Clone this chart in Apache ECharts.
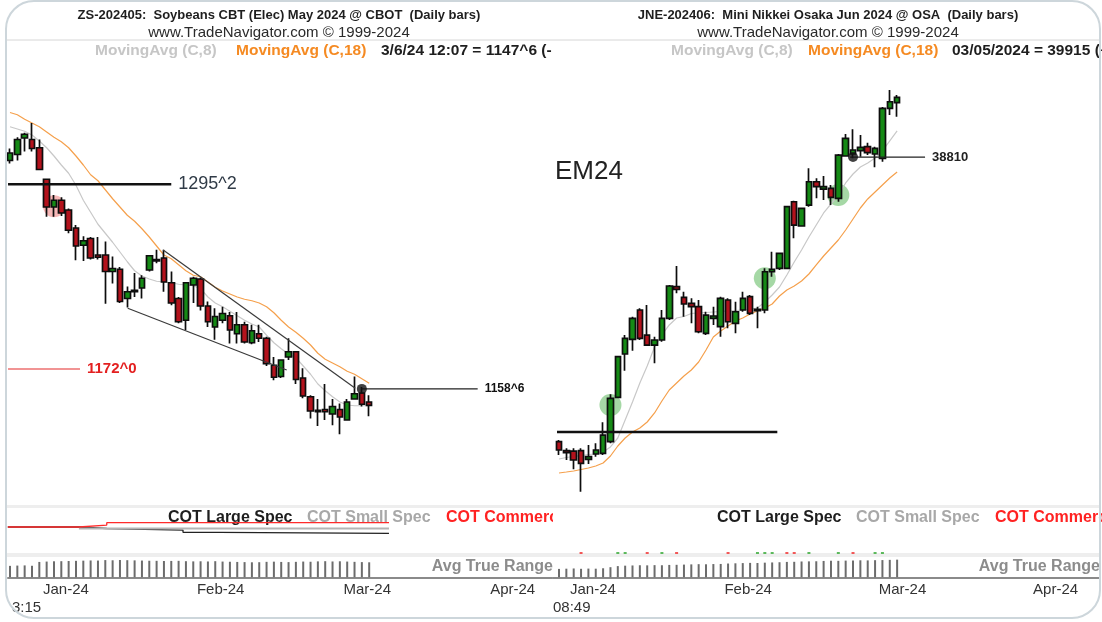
<!DOCTYPE html>
<html>
<head>
<meta charset="utf-8">
<title>ZS-202405 / JNE-202406 daily bars</title>
<script src="https://cdn.jsdelivr.net/npm/echarts@6.0.0/dist/echarts.min.js"></script>
<style>
  html, body { margin: 0; padding: 0; background: #fff; }
  #chart { width: 1102px; height: 622px; }
</style>
</head>
<body>
<div id="chart"></div>
<script>
// ---------- Soybeans CBT May 2024 (ZS-202405), daily bars [open, close, low, high]
const zsBars = [
  [1311, 1316, 1309, 1319], [1315, 1325, 1311, 1326.5], [1326, 1328.5, 1317, 1329.5], [1325, 1319, 1317, 1336],
  [1319.5, 1305, 1304.5, 1325], [1298.5, 1280, 1273.5, 1299], [1280, 1284.5, 1273.5, 1288], [1284.5, 1276, 1274, 1286.5],
  [1278, 1264.5, 1262.5, 1279], [1266, 1254, 1244.5, 1268], [1254.5, 1257.5, 1244, 1260.5], [1259, 1246, 1245, 1260],
  [1248, 1246.5, 1245, 1260], [1248, 1237, 1215.5, 1257], [1237, 1239, 1229, 1247], [1238.5, 1217, 1216, 1240],
  [1219, 1223.5, 1213, 1227], [1223.5, 1224.5, 1220, 1236], [1226, 1232.5, 1219, 1234.5], [1238, 1247.5, 1237, 1248],
  [1245, 1244, 1242.5, 1251.5], [1246, 1230, 1223.5, 1251.5], [1229.5, 1216, 1214.5, 1237], [1219, 1203.5, 1202.5, 1220],
  [1204.5, 1229.5, 1198, 1230], [1228, 1232.5, 1216, 1233.5], [1232, 1214, 1211, 1233], [1214, 1203.5, 1200, 1217],
  [1200, 1207, 1191.5, 1212.5], [1204.5, 1209, 1202.5, 1213.5], [1207.5, 1198, 1189, 1210], [1195.5, 1201.5, 1189, 1210],
  [1201.5, 1190, 1189, 1203.5], [1189.5, 1197.5, 1188.5, 1201.5], [1195.5, 1192.5, 1190, 1201.5], [1192.5, 1175.5, 1174, 1193.5],
  [1174.5, 1166.5, 1164.5, 1180], [1167, 1178, 1166, 1178.5], [1180, 1183.5, 1178, 1192.5], [1183.5, 1165, 1162, 1184],
  [1166, 1154, 1152.5, 1172.5], [1153.5, 1144, 1139, 1154.5], [1144.5, 1143.5, 1134, 1152], [1145, 1143.5, 1138, 1162],
  [1142, 1147, 1134.5, 1152], [1145, 1140, 1128.5, 1149], [1138, 1150, 1137.5, 1152], [1152, 1155.5, 1151.5, 1167],
  [1156, 1148.5, 1147, 1160], [1150, 1147.75, 1140.5, 1154.5]
];
const zsMa8 = [1333.5, 1332, 1330.5, 1328, 1324, 1319.5, 1314, 1308, 1302.5, 1294.5, 1284.5, 1276.5, 1268.5, 1262.5, 1256.5, 1250,
  1243.5, 1237.5, 1234, 1232, 1230.5, 1230, 1229.5, 1228.5, 1228, 1227.5, 1225.5, 1220, 1216, 1213.5, 1210.5, 1207.5, 1204.5,
  1202, 1200, 1194.5, 1189.5, 1185.5, 1182, 1179.5, 1174, 1168.5, 1162, 1157.5, 1153.5, 1150, 1148, 1147.5, 1147.5, 1147.5];
const zsMa18 = [1343, 1341.5, 1338.5, 1336, 1333.5, 1330, 1326.5, 1323.5, 1319.5, 1314, 1308, 1301.5, 1297.5, 1291.5, 1285.5, 1280,
  1274.5, 1270.5, 1265.5, 1260, 1254, 1248, 1245.5, 1241.5, 1237.5, 1234.5, 1233.5, 1230, 1226.5, 1224, 1222, 1220, 1218.5,
  1217.5, 1216, 1213.5, 1209.5, 1204.5, 1200, 1196.5, 1192.5, 1188, 1182.5, 1178.5, 1176, 1173.5, 1170.5, 1168.5, 1165.5, 1162.5];
const zsAtr = [12.5, 12.8, 13, 12.6, 16.8, 17.2, 17.5, 17.6, 17.8, 18, 18.2, 18.4, 18.3, 18.8, 18.6, 18.9, 18.7, 18.5, 18.3, 18.1,
  18, 17.8, 17.9, 18, 17.6, 17.4, 17.5, 17.3, 17.6, 17.2, 17, 16.8, 16.6, 16.4, 16.5, 16.9, 17.1, 16.8, 16.6, 16.9, 17.2, 17,
  17.4, 17.6, 17.3, 17.5, 17.2, 16.9, 16.6, 16.4];
// drawn levels and trend lines, [bar index, price]
const zsLevel1295 = [[-0.27, 1295.25], [22, 1295.25]];
const zsLevel1172 = [[-0.27, 1172], [9.55, 1172]];
const zsLevel1158 = [[48, 1158.75], [63.8, 1158.75]];
const zsChannelTop = [[20.9, 1251.3], [47.1, 1159.1]];
const zsChannelBottom = [[16.06, 1212.5], [37.75, 1171.3]];
const zsDot = [[48, 1158.75]];
const zsCircle = [[6, 1280.5]];
// COT net positions (contracts), stepped weekly
const zsCotLarge = [[-0.3, 0], [9.4, 0], [9.4, -8000], [13.2, -8000], [13.2, -16000], [23.6, -16000], [23.6, -28000],
  [28.5, -28000], [28.5, -34000], [51.7, -34000]];
const zsCotSmall = [[9.4, -8000], [51.7, -8000]];
const zsCotComm = [[-0.3, 0], [9.4, 0], [9.4, 10000], [13.2, 10000], [13.2, 23000], [51.7, 23000]];

// ---------- Mini Nikkei Osaka Jun 2024 (JNE-202406), daily bars [open, close, low, high]
const jneBars = [
  [33544, 33390, 33297, 33575], [33377, 33340, 33205, 33421], [33371, 33205, 33033, 33421], [33377, 33144, 32619, 33421],
  [33218, 33266, 33131, 33482], [33316, 33390, 33266, 33514], [33329, 33667, 33297, 33902], [33544, 34346, 33514, 34420],
  [34365, 35116, 34346, 35130], [35166, 35456, 34857, 35517], [35438, 35826, 35227, 35856], [35980, 35456, 35425, 36011],
  [35517, 35332, 35314, 36072], [35332, 35425, 34994, 35486], [35425, 35826, 35393, 35980], [35826, 36424, 35795, 36442],
  [36411, 36363, 36289, 36794], [36215, 36091, 35856, 36318], [36104, 36041, 35734, 36196], [36041, 35578, 35549, 36165],
  [35549, 35887, 35517, 35948], [35826, 35869, 35702, 36041], [35671, 36196, 35486, 36226], [36165, 35763, 35641, 36196],
  [35734, 35948, 35549, 36133], [35980, 36196, 35948, 36318], [36226, 35919, 35887, 36257], [35993, 35967, 35641, 36041],
  [35980, 36688, 35919, 36751], [36688, 36733, 36596, 37058], [36751, 37029, 36720, 37040], [36751, 37891, 36733, 37904],
  [37983, 37552, 37306, 38002], [37534, 37861, 37521, 37873], [37922, 38353, 37891, 38601], [38353, 38261, 38046, 38416],
  [38218, 38261, 38015, 38459], [38231, 38065, 37922, 38292], [38046, 38847, 37983, 38866], [38829, 39156, 38816, 39236],
  [38866, 38940, 38786, 39323], [38927, 38990, 38816, 39217], [39001, 38890, 38847, 39075], [38866, 38971, 38620, 39001],
  [38786, 39711, 38723, 39735], [39711, 39833, 39587, 40050], [39815, 39915, 39556, 39957]
];
const jneMa8 = [33224, 33251, 33270, 33288, 33307, 33316, 33353, 33446, 33612, 33945, 34278, 34630, 34944, 35296, 35518, 35703,
  35832, 35860, 35915, 35925, 35934, 35943, 35952, 35962, 35971, 35980, 35999, 36017, 36128, 36258, 36406, 36628, 36868, 37090,
  37331, 37553, 37775, 37941, 38108, 38330, 38496, 38626, 38700, 38792, 38922, 39107, 39292];
const jneMa18 = [32965, 32983, 33002, 33029, 33057, 33094, 33150, 33279, 33464, 33612, 33723, 33797, 33908, 34075, 34297, 34500,
  34630, 34759, 34870, 35018, 35240, 35481, 35592, 35684, 35777, 35832, 35906, 35962, 36017, 36091, 36239, 36350, 36424, 36517,
  36646, 36813, 36979, 37127, 37275, 37460, 37664, 37867, 38034, 38163, 38293, 38422, 38533];
const jneAtr = [390, 400, 410, 395, 405, 400, 420, 470, 520, 540, 550, 560, 555, 565, 560, 575, 580, 590, 600, 610, 605, 615, 620,
  640, 650, 660, 670, 665, 680, 690, 700, 715, 720, 735, 740, 745, 760, 770, 765, 775, 780, 790, 785, 795, 800, 810, 820];
const jneLevelLow = [[-0.27, 33723], [29.7, 33723]];
const jneLevel38810 = [[39.6, 38810], [49.8, 38810]];
const jneDot = [[40, 38810]];
const jneCircles = [[7, 34222], [28, 36566], [38, 38108]];
const jneSigUp = [8, 9, 14, 27, 28, 29, 34, 38, 43, 44];
const jneSigDown = [3, 12, 16, 23, 31, 32, 40];

// ---------- date axis
const months = ['Jan-24', 'Feb-24', 'Mar-24', 'Apr-24'];
const zsMonthStart = [5, 26, 46, 66];
const jneMonthStart = [2, 23, 44, 65];

const FONT = '"Liberation Sans", Arial, sans-serif';

let chartDom = document.getElementById('chart');
let myChart = echarts.init(chartDom, null, { renderer: 'canvas' });

// panel geometry: bar i sits at x = first + i * step
const panels = [
  { left: 8, width: 544, xmin: -0.273, xmax: 73.94 },
  { left: 553, width: 547, xmin: -0.816, xmax: 73.6 }
];

function grids(p) {
  return [
    { left: p.left, width: p.width, top: 63, height: 435 },
    { left: p.left, width: p.width, top: 508, height: 38 },
    { left: p.left, width: p.width, top: 551, height: 4 },
    { left: p.left, width: p.width, top: 559, height: 18.3 }
  ];
}

function hiddenX(gi, p) {
  return { type: 'value', gridIndex: gi, min: p.xmin, max: p.xmax, show: false };
}

function dateX(gi, p, starts) {
  return {
    type: 'value', gridIndex: gi, min: p.xmin, max: p.xmax,
    axisLine: { show: true, onZero: false, lineStyle: { color: '#8a8a8a', width: 2 } },
    axisTick: { show: false },
    splitLine: { show: false },
    axisLabel: {
      customValues: starts.map(s => s - 0.5),
      formatter: function (v) {
        let k = starts.findIndex(s => Math.abs(s - 0.5 - v) < 0.01);
        return k >= 0 ? months[k] : '';
      },
      align: 'left', margin: 5, fontSize: 15, color: '#333', fontFamily: FONT
    }
  };
}

function yAx(gi, min, max) {
  return { type: 'value', gridIndex: gi, min: min, max: max, show: false, scale: true };
}

function candles(ax, data) {
  return {
    type: 'candlestick', xAxisIndex: ax, yAxisIndex: ax, silent: true, z: 4, barWidth: 6,
    data: data.map((b, i) => [i, b[0], b[1], b[2], b[3]]),
    itemStyle: {
      color: '#158a15', color0: '#b3121c',
      borderColor: '#0d0d0d', borderColor0: '#0d0d0d', borderColorDoji: '#0d0d0d', borderWidth: 1.7
    }
  };
}

function maLine(ax, data, color) {
  return {
    type: 'line', xAxisIndex: ax, yAxisIndex: ax, silent: true, z: 3, symbol: 'none',
    data: data.map((v, i) => [i, v]), lineStyle: { color: color, width: 1.2 }
  };
}

function drawnLine(ax, data, color, width, label) {
  let s = {
    type: 'line', xAxisIndex: ax, yAxisIndex: ax, silent: true, z: 5, symbol: 'none',
    data: data, lineStyle: { color: color, width: width }
  };
  if (label) {
    s.endLabel = Object.assign({ show: true, distance: 7, fontFamily: FONT, formatter: label.text }, label.style);
  }
  return s;
}

function dots(ax, data, size, color, z) {
  return {
    type: 'scatter', xAxisIndex: ax, yAxisIndex: ax, silent: true, z: z,
    data: data, symbolSize: size, itemStyle: { color: color }
  };
}

function text(x, y, str, font, fill, align) {
  return {
    type: 'text', x: x, y: y, z: 1,
    style: {
      text: str, font: font, fill: fill,
      align: align || 'left', textAlign: align || 'left',
      verticalAlign: 'middle', textVerticalAlign: 'middle'
    }
  };
}

function rect(x, y, w, h, fill, z) {
  return { type: 'rect', z: z, shape: { x: x, y: y, width: w, height: h }, style: { fill: fill } };
}

let option = {
  backgroundColor: '#ffffff',
  animation: false,
  grid: grids(panels[0]).concat(grids(panels[1])),
  xAxis: [
    hiddenX(0, panels[0]), hiddenX(1, panels[0]), hiddenX(2, panels[0]), dateX(3, panels[0], zsMonthStart),
    hiddenX(4, panels[1]), hiddenX(5, panels[1]), hiddenX(6, panels[1]), dateX(7, panels[1], jneMonthStart)
  ],
  yAxis: [
    yAx(0, 1086, 1376), yAx(1, -100000, 100000), yAx(2, -1, 1), yAx(3, 0, 20),
    yAx(4, 32502, 40549.5), yAx(5, -100000, 100000), yAx(6, -1, 1), yAx(7, 0, 850)
  ],
  series: [
    // soybeans
    dots(0, zsCircle, 22, 'rgba(236, 90, 90, 0.55)', 2),
    maLine(0, zsMa18, '#f5a04c'),
    maLine(0, zsMa8, '#c8c8c8'),
    drawnLine(0, zsChannelTop, '#3a3a3a', 1.2),
    drawnLine(0, zsChannelBottom, '#3a3a3a', 1.2),
    candles(0, zsBars),
    drawnLine(0, zsLevel1295, '#111', 2.5, { text: '1295^2', style: { fontSize: 18, color: '#303b47' } }),
    drawnLine(0, zsLevel1172, '#e32a2a', 1.2, { text: '1172^0', style: { fontSize: 15, fontWeight: 'bold', color: '#e32020' } }),
    drawnLine(0, zsLevel1158, '#222', 1.3, { text: '1158^6', style: { fontSize: 12, fontWeight: 'bold', color: '#111' } }),
    dots(0, zsDot, 10, '#111', 6),
    drawnLine(1, zsCotLarge, '#222', 1.3),
    drawnLine(1, zsCotSmall, '#b4b4b4', 2),
    drawnLine(1, zsCotComm, '#ff2b2b', 1.3),
    {
      type: 'bar', xAxisIndex: 3, yAxisIndex: 3, silent: true, barWidth: 2,
      data: zsAtr.map((v, i) => [i, v]), itemStyle: { color: '#6c6c6c' }
    },
    // mini nikkei
    dots(4, jneCircles, 22, 'rgba(72, 176, 72, 0.62)', 2),
    maLine(4, jneMa18, '#f5a04c'),
    maLine(4, jneMa8, '#c8c8c8'),
    candles(4, jneBars),
    drawnLine(4, jneLevelLow, '#111', 2.5),
    drawnLine(4, jneLevel38810, '#222', 1.3, { text: '38810', style: { fontSize: 13, fontWeight: 'bold', color: '#222' } }),
    dots(4, jneDot, 10, '#111', 6),
    {
      type: 'scatter', xAxisIndex: 6, yAxisIndex: 6, silent: true, symbol: 'rect', symbolSize: [3, 2],
      data: jneSigUp.map(i => [i, 0]), itemStyle: { color: '#35a935' }
    },
    {
      type: 'scatter', xAxisIndex: 6, yAxisIndex: 6, silent: true, symbol: 'rect', symbolSize: [3, 2],
      data: jneSigDown.map(i => [i, 0]), itemStyle: { color: '#f03030' }
    },
    {
      type: 'bar', xAxisIndex: 7, yAxisIndex: 7, silent: true, barWidth: 2,
      data: jneAtr.map((v, i) => [i, v]), itemStyle: { color: '#6c6c6c' }
    }
  ],
  graphic: {
    elements: [
      // separators
      { type: 'line', z: 0, shape: { x1: 6, y1: 40, x2: 1100, y2: 40 }, style: { stroke: '#d6d6d6', lineWidth: 1 } },
      rect(7, 505, 1093, 3, '#eeeeee', 0),
      rect(7, 553, 1093, 4, '#eeeeee', 0),
      // soybeans headings
      text(279, 15, 'ZS-202405:  Soybeans CBT (Elec) May 2024 @ CBOT  (Daily bars)', 'bold 13px ' + FONT, '#1e1e1e', 'center'),
      text(279, 33, 'www.TradeNavigator.com \u00a9 1999-2024', '15px ' + FONT, '#2a2a2a', 'center'),
      text(95, 51, 'MovingAvg (C,8)', 'bold 15.5px ' + FONT, '#c6c6c6'),
      text(236, 51, 'MovingAvg (C,18)', 'bold 15.5px ' + FONT, '#f58a22'),
      text(381, 51, '3/6/24 12:07 = 1147^6 (-15^0)', 'bold 15.5px ' + FONT, '#1e1e1e'),
      text(168, 518, 'COT Large Spec', 'bold 16px ' + FONT, '#1e1e1e'),
      text(307, 518, 'COT Small Spec', 'bold 16px ' + FONT, '#a8a8a8'),
      text(446, 518, 'COT Commercials', 'bold 16px ' + FONT, '#ff2222'),
      text(553, 567, 'Avg True Range', 'bold 16px ' + FONT, '#8c8c8c', 'right'),
      text(12, 608, '3:15', '15px ' + FONT, '#333'),
      // nikkei headings
      text(828, 15, 'JNE-202406:  Mini Nikkei Osaka Jun 2024 @ OSA  (Daily bars)', 'bold 13px ' + FONT, '#1e1e1e', 'center'),
      text(828, 33, 'www.TradeNavigator.com \u00a9 1999-2024', '15px ' + FONT, '#2a2a2a', 'center'),
      text(671, 51, 'MovingAvg (C,8)', 'bold 15.5px ' + FONT, '#c6c6c6'),
      text(808, 51, 'MovingAvg (C,18)', 'bold 15.5px ' + FONT, '#f58a22'),
      text(952, 51, '03/05/2024 = 39915 (+70)', 'bold 15.5px ' + FONT, '#1e1e1e'),
      text(555, 172, 'EM24', '26px ' + FONT, '#222'),
      text(717, 518, 'COT Large Spec', 'bold 16px ' + FONT, '#1e1e1e'),
      text(856, 518, 'COT Small Spec', 'bold 16px ' + FONT, '#a8a8a8'),
      text(995, 518, 'COT Commercials', 'bold 16px ' + FONT, '#ff2222'),
      text(1100, 567, 'Avg True Range', 'bold 16px ' + FONT, '#8c8c8c', 'right'),
      text(553, 608, '08:49', '15px ' + FONT, '#333'),
      // left panel texts stop at the panel edge
      rect(552, 43, 110, 17, '#ffffff', 50),
      rect(553, 510, 150, 19, '#ffffff', 50),
      // outer frame
      {
        type: 'rect', z: 100, shape: { x: 6, y: 1, width: 1094, height: 617, r: 28 },
        style: { fill: 'none', stroke: '#cdd6db', lineWidth: 2 }
      }
    ]
  }
};

option && myChart.setOption(option);
</script>
</body>
</html>
